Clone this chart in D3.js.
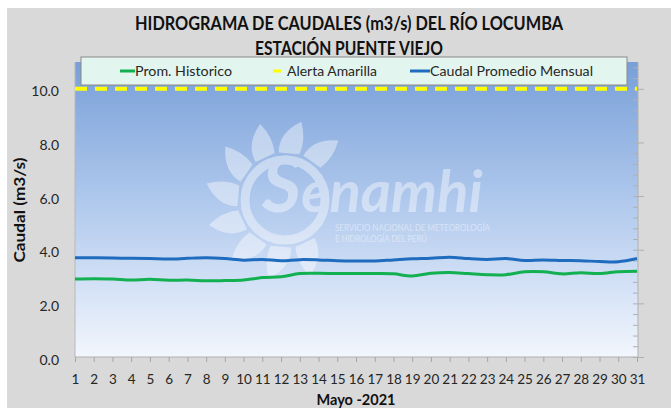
<!DOCTYPE html>
<html><head><meta charset="utf-8">
<script src="https://cdn.jsdelivr.net/npm/d3@7"></script>
<style>
body{margin:0;background:#fff}
svg{display:block}
text{font-family:Lato,'Open Sans',sans-serif}
</style>
</head><body>
<svg id="c" width="671" height="409"></svg>
<script>
// ---- data ----
const days = [1,2,3,4,5,6,7,8,9,10,11,12,13,14,15,16,17,18,19,20,21,22,23,24,25,26,27,28,29,30,31];
const promHistorico = [2.91,2.92,2.91,2.87,2.90,2.86,2.87,2.84,2.85,2.87,2.96,2.99,3.11,3.12,3.11,3.11,3.11,3.10,3.02,3.12,3.15,3.11,3.07,3.07,3.18,3.18,3.10,3.14,3.11,3.18,3.20];
const alertaAmarilla = [10,10,10,10,10,10,10,10,10,10,10,10,10,10,10,10,10,10,10,10,10,10,10,10,10,10,10,10,10,10,10];
const caudalMensual = [3.70,3.70,3.69,3.68,3.67,3.65,3.68,3.70,3.67,3.61,3.64,3.59,3.63,3.62,3.59,3.58,3.58,3.62,3.66,3.68,3.72,3.67,3.64,3.67,3.60,3.62,3.60,3.59,3.56,3.55,3.67];
const yTicks = [0,2,4,6,8,10];
const seriesNames = ["Prom. Historico","Alerta Amarilla","Caudal Promedio Mensual"];
const titleLines = ["HIDROGRAMA DE CAUDALES (m3/s) DEL RÍO LOCUMBA","ESTACIÓN PUENTE VIEJO"];
const xTitle = "Mayo -2021";
const yTitle = "Caudal (m3/s)";

// ---- layout ----
const svg = d3.select("#c");
const P = {l:75, r:638, t:62, b:357};
const x = d3.scaleLinear().domain([1,31]).range([P.l, P.r-1]);
const y = d3.scaleLinear().domain([0,11]).range([P.b, P.t]);

const defs = svg.append("defs");
const g = defs.append("linearGradient").attr("id","bg").attr("x1",0).attr("y1",0).attr("x2",0).attr("y2",1);
g.append("stop").attr("offset","0%").attr("stop-color","#789fd8");
g.append("stop").attr("offset","50%").attr("stop-color","#b3cbee");
g.append("stop").attr("offset","100%").attr("stop-color","#f2f6fd");

svg.append("rect").attr("width",671).attr("height",409).attr("fill","#fff");
svg.append("rect").attr("x",7).attr("y",8).attr("width",664).attr("height",400).attr("fill","#d9d9d9");

// plot area
svg.append("rect").attr("x",P.l).attr("y",P.t).attr("width",P.r-P.l).attr("height",P.b-P.t).attr("fill","url(#bg)");

// watermark
const wm = svg.append("g").attr("opacity",0.42).attr("fill","#fff");
const cx = 285, cy = 200;
wm.append("circle").attr("cx",cx).attr("cy",cy).attr("r",40).attr("fill","none").attr("stroke","#fff").attr("stroke-width",9);
const rayAngles = [-55,-85,-115,-145,-175,155,125,95,65];
rayAngles.forEach(a=>{
  const r0=48, r1=80, rad=a*Math.PI/180;
  const p = d3.path();
  const pt=(r,da)=>[cx+r*Math.cos(rad+da), cy+r*Math.sin(rad+da)];
  const A=pt(r0,-0.22), B=pt(r0,0.22), T=pt(r1,0.12), C1=pt(r1*0.85,-0.18), C2=pt(r1*0.8,0.25);
  p.moveTo(A[0],A[1]);
  p.quadraticCurveTo(C1[0],C1[1],T[0],T[1]);
  p.quadraticCurveTo(C2[0],C2[1],B[0],B[1]);
  p.closePath();
  wm.append("path").attr("d",p.toString());
});
const st = wm.append("text").attr("x",262).attr("y",212).attr("font-weight","bold").attr("font-style","italic").attr("font-family","'DejaVu Sans',sans-serif");
st.append("tspan").attr("font-size",76).text("S");
st.append("tspan").attr("font-size",58).text("enamhi");
wm.append("text").attr("x",335).attr("y",231).attr("font-size",8.5).attr("textLength",155).attr("lengthAdjust","spacingAndGlyphs").text("SERVICIO NACIONAL DE METEOROLOGÍA");
wm.append("text").attr("x",335).attr("y",242).attr("font-size",8.5).attr("textLength",92).attr("lengthAdjust","spacingAndGlyphs").text("E HIDROLOGÍA DEL PERÚ");

// axes
const xAxis = svg.append("g").attr("transform",`translate(0,${P.b})`)
  .call(d3.axisBottom(x).tickValues(days).tickSize(5).tickPadding(12).tickFormat(d3.format("d")));
xAxis.select(".domain").attr("stroke","#b0b0b0").attr("d",`M${P.l},0H${P.r}`);
xAxis.selectAll(".tick line").attr("stroke","#a6a6a6");
xAxis.selectAll(".tick text").attr("font-size",13.5).attr("fill","#262626").attr("font-family","Lato,sans-serif");

const yAxis = svg.append("g").attr("transform",`translate(${P.l},0)`)
  .call(d3.axisLeft(y).tickValues(yTicks).tickSize(0).tickPadding(16).tickFormat(d3.format(".1f")));
yAxis.select(".domain").attr("stroke","#b8b8b8").attr("d",`M0,${P.t}V${P.b}`);
yAxis.selectAll(".tick text").attr("font-size",14).attr("fill","#262626").attr("dy","0.5em").attr("font-family","Lato,sans-serif");

// right axis
const minor = d3.range(0,10.81,0.4);
const rAxis = svg.append("g").attr("transform",`translate(${P.r},0)`)
  .call(d3.axisRight(y).tickValues(minor).tickSize(-5).tickFormat(""));
rAxis.select(".domain").attr("stroke","#b0b0b0").attr("d",`M0,${P.t}V${P.b}`);
rAxis.selectAll(".tick line").attr("stroke","#b0b0b0");
const rAxis2 = svg.append("g").attr("transform",`translate(${P.r},0)`)
  .call(d3.axisRight(y).tickValues(yTicks).tickSize(6).tickFormat(""));
rAxis2.select(".domain").remove();
rAxis2.selectAll(".tick line").attr("stroke","#b0b0b0");

// series
const line = d3.line().x((d,i)=>x(days[i])).y(d=>y(d)).curve(d3.curveCatmullRom.alpha(0.5));
svg.append("path").attr("d",line(promHistorico)).attr("fill","none").attr("stroke","#12b050").attr("stroke-width",3);
svg.append("path").attr("d",d3.line().x((d,i)=>x(days[i])).y(d=>y(d))(alertaAmarilla)).attr("fill","none").attr("stroke","#ffff00").attr("stroke-width",4).attr("stroke-dasharray","12,8");
svg.append("path").attr("d",line(caudalMensual)).attr("fill","none").attr("stroke","#1f6cbf").attr("stroke-width",3);

// legend
const lg = svg.append("g");
lg.append("rect").attr("x",81).attr("y",57).attr("width",546).attr("height",28).attr("fill","#e2f5ee").attr("stroke","#8a8a8a").attr("stroke-width",1);
const leg = [
  {c:"#12b050", x0:120, x1:135, tx:135, tl:97},
  {c:"#ffff00", x0:273, x1:281, tx:287, tl:90},
  {c:"#1f6cbf", x0:410, x1:430, tx:430, tl:163}
];
leg.forEach((d,i)=>{
  lg.append("line").attr("x1",d.x0).attr("x2",d.x1).attr("y1",71).attr("y2",71).attr("stroke",d.c).attr("stroke-width",3);
  lg.append("text").attr("x",d.tx).attr("y",76).attr("font-size",14).attr("fill","#262626")
    .attr("textLength",d.tl).attr("lengthAdjust","spacingAndGlyphs").text(seriesNames[i]);
});

// titles
svg.append("text").attr("x",349).attr("y",30).attr("text-anchor","middle").attr("font-size",19).attr("font-weight","bold").attr("fill","#111")
  .attr("textLength",428).attr("lengthAdjust","spacingAndGlyphs").text(titleLines[0]);
svg.append("text").attr("x",349).attr("y",55).attr("text-anchor","middle").attr("font-size",19).attr("font-weight","bold").attr("fill","#111")
  .attr("textLength",188).attr("lengthAdjust","spacingAndGlyphs").text(titleLines[1]);
svg.append("text").attr("x",356).attr("y",405).attr("text-anchor","middle").attr("font-size",14.5).attr("font-weight","bold").attr("fill","#111").text(xTitle);
svg.append("text").attr("transform","translate(25,210) rotate(-90)").attr("text-anchor","middle").attr("font-size",15).attr("font-weight","bold").attr("fill","#111")
  .attr("textLength",105).attr("lengthAdjust","spacingAndGlyphs").text(yTitle);
</script>
</body></html>
